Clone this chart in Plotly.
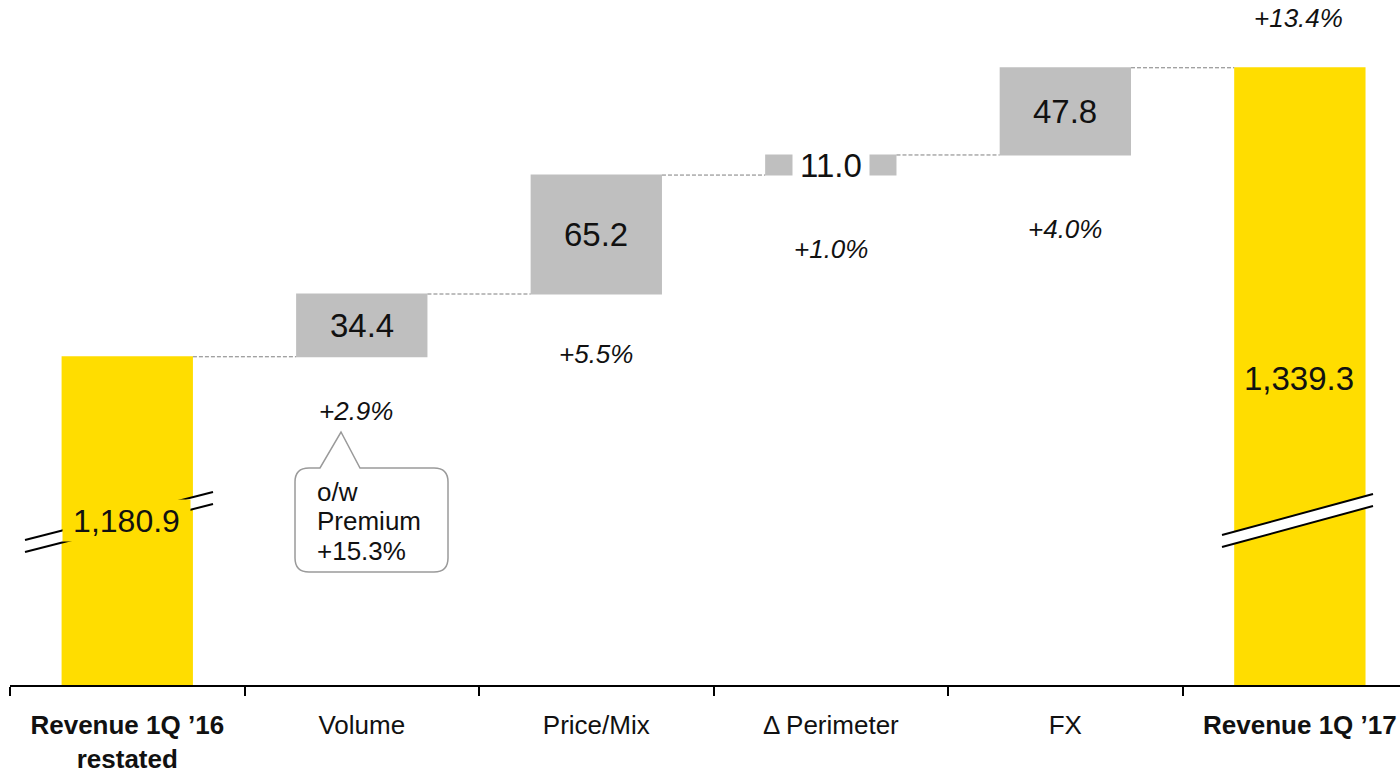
import plotly.graph_objects as go

# categories and values (EUR m)
categories = ["Revenue 1Q '16 restated", "Volume", "Price/Mix", "Perimeter", "FX", "Revenue 1Q '17"]
tick_labels = ["<b>Revenue 1Q ’16</b><br><b>restated</b>", "Volume", "Price/Mix", "Δ Perimeter", "FX",
               "<b>Revenue 1Q ’17</b>"]
values = [1180.9, 34.4, 65.2, 11.0, 47.8, 1339.3]
measures = ["absolute", "relative", "relative", "relative", "relative", "total"]
value_text = ["1,180.9", "34.4", "65.2", "11.0", "47.8", "1,339.3"]
growth_text = ["+2.9%", "+5.5%", "+1.0%", "+4.0%", "+13.4%"]
callout_lines = ["o/w", "Premium", "+15.3%"]

YELLOW = "#FFDD00"
GREY = "#BFBFBF"
FONT = "Arial, Liberation Sans, sans-serif"

W, H = 1400, 770
ML, MB = 10, 85
PW, PH = W - ML, H - MB


def px(x, y):
    """screen pixel position -> paper coords"""
    return (x - ML) / PW, 1 - y / PH


def label(x, y, text, size, **kw):
    d = dict(x=x, y=y, text=text, showarrow=False, xanchor="center", yanchor="middle",
             font=dict(size=size, color="#111111"))
    d.update(kw)
    return d


fig = go.Figure(go.Waterfall(
    x=categories, y=values, measure=measures,
    width=0.56,
    increasing={"marker": {"color": GREY}},
    totals={"marker": {"color": YELLOW}},
    connector={"mode": "between", "line": {"color": "#7F7F7F", "width": 1, "dash": "4px,2px"}},
    hoverinfo="skip",
))

annotations = []
shapes = []

# values inside the step bars, placed at the middle of each step
running = values[0]
for i in range(1, 5):
    mid = running + values[i] / 2
    running += values[i]
    extra = dict(bgcolor="white", width=76, height=34, borderpad=0) if i == 3 else {}
    annotations.append(label(i, mid, value_text[i], 33, xref="x", yref="y", **extra))

# broken-axis marks on the two total bars
for (x0, y0, x1, y1) in [(25, 540, 213, 492), (1222, 535, 1373, 494)]:
    gap = 12
    p = [px(x0, y0), px(x1, y1), px(x1, y1 + gap), px(x0, y0 + gap)]
    path = "M {} {} L {} {} L {} {} L {} {} Z".format(*[c for pt in p for c in pt])
    shapes.append(dict(type="path", path=path, xref="paper", yref="paper",
                       fillcolor="white", line=dict(width=0), layer="above"))
    for dy in (0, gap):
        a0, b0 = px(x0, y0 + dy)
        a1, b1 = px(x1, y1 + dy)
        shapes.append(dict(type="line", x0=a0, y0=b0, x1=a1, y1=b1, xref="paper", yref="paper",
                           line=dict(color="black", width=2), layer="above"))

# total labels
xa, ya = px(126, 520)
annotations.append(label(xa, ya, value_text[0], 32, xref="paper", yref="paper",
                         bgcolor=YELLOW, width=127, height=41, borderpad=0))
xa, ya = px(1299, 378)
annotations.append(label(xa, ya, value_text[5], 33, xref="paper", yref="paper"))

# growth percentages
growth_pos = [(356, 411), (596, 354), (831, 249), (1065, 229), (1298, 18)]
for t, (gx, gy) in zip(growth_text, growth_pos):
    xa, ya = px(gx, gy)
    annotations.append(label(xa, ya, f"<i>{t}</i>", 26, xref="paper", yref="paper"))

# callout bubble
bx0, bx1, by0, by1, r = 295, 448, 468, 572, 14
pts = [("M", (bx0 + r, by0)), ("L", (320, by0)), ("L", (341, 432)), ("L", (360, by0)),
       ("L", (bx1 - r, by0)), ("Q", (bx1, by0), (bx1, by0 + r)), ("L", (bx1, by1 - r)),
       ("Q", (bx1, by1), (bx1 - r, by1)), ("L", (bx0 + r, by1)), ("Q", (bx0, by1), (bx0, by1 - r)),
       ("L", (bx0, by0 + r)), ("Q", (bx0, by0), (bx0 + r, by0))]
path = ""
for seg in pts:
    path += seg[0] + " " + " ".join("{:.5f} {:.5f}".format(*px(*p)) for p in seg[1:]) + " "
path += "Z"
shapes.append(dict(type="path", path=path, xref="paper", yref="paper", fillcolor="white",
                   line=dict(color="#9A9A9A", width=1.5), layer="above"))
for line_text, ly in zip(callout_lines, [492, 521, 551]):
    xa, ya = px(315, ly)
    annotations.append(label(xa, ya, line_text, 26, xref="paper", yref="paper", xanchor="left"))

# value scale: ~1.8245 px per unit, axis baseline at ~1001
y_bottom = 1001
y_top = y_bottom + PH / 1.8245

fig.update_layout(
    width=W, height=H,
    margin=dict(l=ML, r=0, t=0, b=MB, autoexpand=False),
    plot_bgcolor="white", paper_bgcolor="white",
    showlegend=False,
    font=dict(family=FONT, color="#111111"),
    annotations=annotations, shapes=shapes,
    xaxis=dict(type="category", tickvals=categories, ticktext=tick_labels, range=[-0.5, 5.427],
               automargin=False,
               showline=True, linecolor="black", linewidth=2, ticks="outside", tickson="boundaries",
               ticklen=9, tickwidth=2, tickcolor="black", tickfont=dict(size=26, color="#111111"),
               ticklabelstandoff=16, showgrid=False, zeroline=False),
    yaxis=dict(range=[y_bottom, y_top], visible=False, showgrid=False, zeroline=False, automargin=False),
)

# drop the default page margin so the figure fills the window exactly
fig.write_html("out.html", config={"displayModeBar": False},
               post_script="document.body.style.margin='0';document.body.style.overflow='hidden';")
